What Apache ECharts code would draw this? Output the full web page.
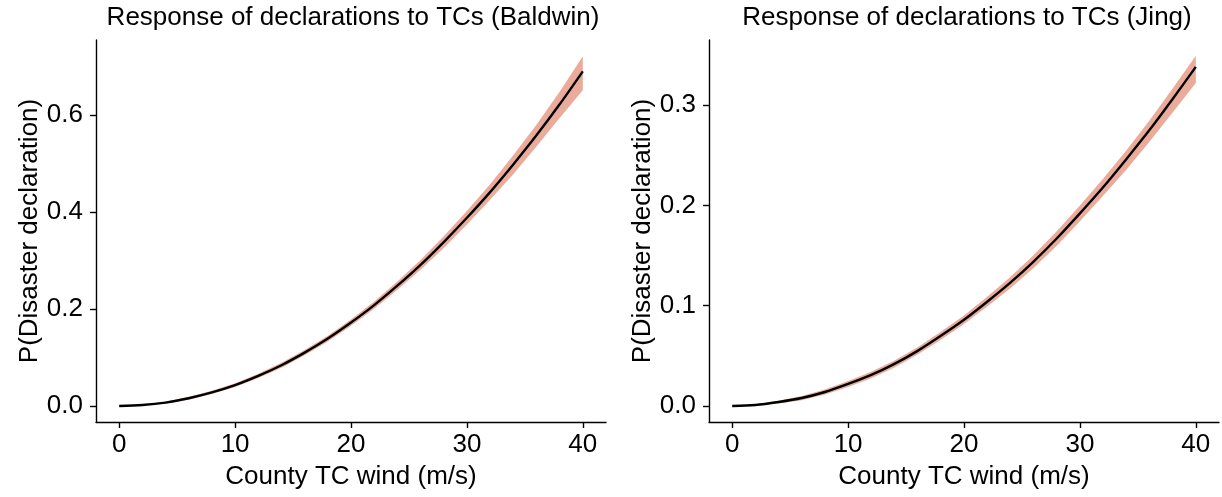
<!DOCTYPE html>
<html>
<head>
<meta charset="utf-8">
<script src="https://cdn.jsdelivr.net/npm/echarts@6/dist/echarts.min.js"></script>
<style>
  html, body { margin: 0; padding: 0; background: #ffffff; }
  #chart { width: 1222px; height: 497px; }
</style>
</head>
<body>
<div id="chart"></div>
<script>
// ---- data ----
const windSpeed = [0, 2, 4, 6, 8, 10, 12, 14, 16, 18, 20, 22, 24, 26, 28, 30, 32, 34, 36, 38, 40];

const baldwinMean  = [0.000, 0.002, 0.007, 0.016, 0.028, 0.043, 0.062, 0.084, 0.110, 0.139, 0.172, 0.208, 0.248, 0.291, 0.338, 0.388, 0.441, 0.498, 0.558, 0.622, 0.690];
const baldwinUpper = [0.000, 0.003, 0.009, 0.019, 0.0315, 0.047, 0.0665, 0.089, 0.1155, 0.145, 0.1785, 0.2155, 0.2565, 0.301, 0.350, 0.402, 0.457, 0.517, 0.580, 0.648, 0.721];
const baldwinLower = [0.000, 0.001, 0.005, 0.013, 0.0245, 0.039, 0.0575, 0.079, 0.1045, 0.133, 0.1655, 0.2005, 0.2395, 0.281, 0.326, 0.374, 0.425, 0.478, 0.535, 0.594, 0.651];

const jingMean  = [0.000, 0.001, 0.004, 0.008, 0.014, 0.022, 0.031, 0.042, 0.055, 0.070, 0.086, 0.104, 0.123, 0.144, 0.167, 0.192, 0.218, 0.246, 0.275, 0.306, 0.338];
const jingUpper = [0.000, 0.0017, 0.0054, 0.0101, 0.0166, 0.025, 0.0343, 0.0455, 0.0587, 0.074, 0.0903, 0.1088, 0.1285, 0.1503, 0.1742, 0.1998, 0.2265, 0.2548, 0.2845, 0.3165, 0.349];
const jingLower = [0.000, 0.0003, 0.0026, 0.0059, 0.0114, 0.019, 0.0277, 0.0385, 0.0513, 0.066, 0.0817, 0.0992, 0.1175, 0.1377, 0.1598, 0.1842, 0.2095, 0.2355, 0.2635, 0.2925, 0.322];

const xTicks = [0, 10, 20, 30, 40];
const baldwinYTicks = [0, 0.2, 0.4, 0.6];
const jingYTicks = [0, 0.1, 0.2, 0.3];

const titles = ['Response of declarations to TCs (Baldwin)', 'Response of declarations to TCs (Jing)'];
const xName = 'County TC wind (m/s)';
const yName = 'P(Disaster declaration)';

// ---- chart ----
const FONT = '"Liberation Sans", Arial, Helvetica, sans-serif';
const FS = 26;
const BAND = '#ebab9b';

function bandSeries(idx, upper, lower) {
  return {
    type: 'custom',
    xAxisIndex: idx, yAxisIndex: idx,
    silent: true, z: 1,
    data: [[windSpeed[0], lower[0]]],
    renderItem: function (params, api) {
      const pts = [];
      for (let i = 0; i < windSpeed.length; i++) pts.push(api.coord([windSpeed[i], upper[i]]));
      for (let i = windSpeed.length - 1; i >= 0; i--) pts.push(api.coord([windSpeed[i], lower[i]]));
      return { type: 'polygon', shape: { points: pts }, style: { fill: BAND, stroke: null } };
    }
  };
}

function lineSeries(idx, mean) {
  return {
    type: 'line', xAxisIndex: idx, yAxisIndex: idx, z: 3,
    data: windSpeed.map((x, i) => [x, mean[i]]),
    showSymbol: false, smooth: 0.3,
    lineStyle: { color: '#000', width: 2.4 },
    silent: true
  };
}

function xAxis(idx) {
  return {
    type: 'value', gridIndex: idx, min: -2, max: 42,
    name: xName, nameLocation: 'middle', nameGap: 42,
    nameTextStyle: { fontFamily: FONT, fontSize: FS, color: '#000' },
    axisLine: { show: true, onZero: false, lineStyle: { color: '#000', width: 1.4 } },
    axisTick: { show: true, inside: false, length: 6, lineStyle: { color: '#000', width: 1.4 }, customValues: xTicks },
    axisLabel: { show: true, margin: 10, fontFamily: FONT, fontSize: FS, color: '#000', customValues: xTicks },
    splitLine: { show: false }
  };
}

function yAxis(idx, min, max, ticks) {
  return {
    type: 'value', gridIndex: idx, min: min, max: max,
    name: yName, nameLocation: 'middle', nameGap: 52, nameRotate: 90,
    nameTextStyle: { fontFamily: FONT, fontSize: FS, color: '#000' },
    axisLine: { show: true, onZero: false, lineStyle: { color: '#000', width: 1.4 } },
    axisTick: { show: true, inside: false, length: 6, lineStyle: { color: '#000', width: 1.4 }, customValues: ticks },
    axisLabel: { show: true, margin: 13, fontFamily: FONT, fontSize: FS, color: '#000', customValues: ticks,
                 formatter: v => Number(v).toFixed(1) },
    splitLine: { show: false }
  };
}

const chart = echarts.init(document.getElementById('chart'), null, { renderer: 'canvas' });
chart.setOption({
  backgroundColor: '#ffffff',
  animation: false,
  title: [
    { text: titles[0], left: 353, top: 5, textAlign: 'center', padding: 0,
      textStyle: { fontFamily: FONT, fontSize: FS, fontWeight: 'normal', color: '#000' } },
    { text: titles[1], left: 967, top: 5, textAlign: 'center', padding: 0,
      textStyle: { fontFamily: FONT, fontSize: FS, fontWeight: 'normal', color: '#000' } }
  ],
  grid: [
    { left: 96, top: 40, width: 510, height: 382 },
    { left: 709, top: 40, width: 510, height: 382 }
  ],
  xAxis: [xAxis(0), xAxis(1)],
  yAxis: [
    yAxis(0, -0.033, 0.7546, baldwinYTicks),
    yAxis(1, -0.0159, 0.3648, jingYTicks)
  ],
  series: [
    bandSeries(0, baldwinUpper, baldwinLower),
    lineSeries(0, baldwinMean),
    bandSeries(1, jingUpper, jingLower),
    lineSeries(1, jingMean)
  ]
});
</script>
</body>
</html>
